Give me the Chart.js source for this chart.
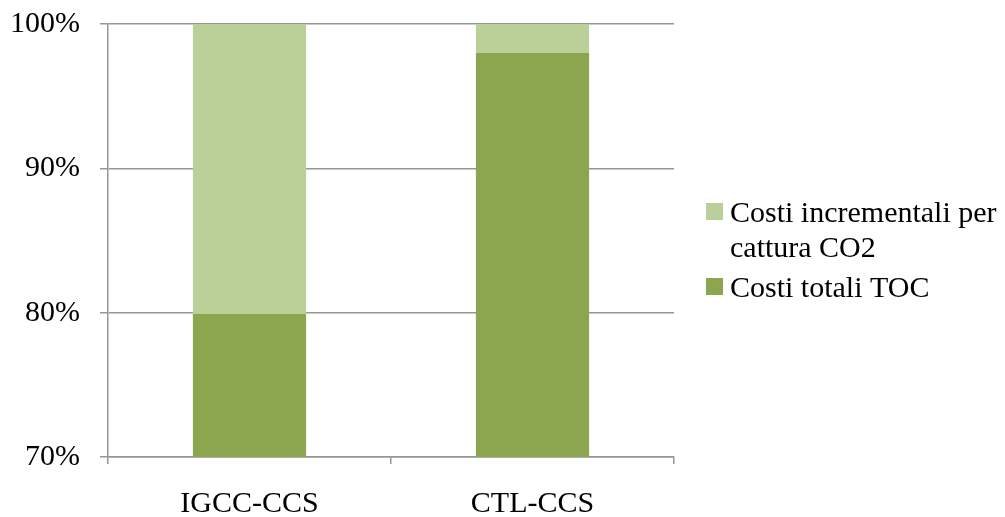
<!DOCTYPE html>
<html>
<head>
<meta charset="utf-8">
<script src="https://cdn.jsdelivr.net/npm/chart.js@4/dist/chart.umd.min.js"></script>
<style>
  html, body { margin: 0; padding: 0; background: #ffffff; }
  #wrap { width: 1005px; height: 517px; position: relative; }
</style>
</head>
<body>
<div id="wrap"><canvas id="c" width="1005" height="517"></canvas></div>
<script>
// Categories and series (percent of total cost)
const categories = ['IGCC-CCS', 'CTL-CCS'];
const costiTotaliTOC = [79.9, 98.0];
const costiIncrementali = [20.1, 2.0];
const seriesNames = ['Costi totali TOC', ['Costi incrementali per', 'cattura CO2']];
const yTicks = [70, 80, 90, 100];

const FONT = '"Liberation Serif", "Times New Roman", serif';
const DARK = '#8BA64F';
const LIGHT = '#BBCF98';
const GRID = '#969696';

// Legend drawn on the right, items listed top-down in reverse stacking order
const sideLegend = {
  id: 'sideLegend',
  afterDraw(chart) {
    const ctx = chart.ctx;
    const ds = chart.data.datasets.slice().reverse();
    const x0 = 706, textX = 730, lineH = 35;
    let baseline = 222;
    ctx.save();
    ctx.font = '30px ' + FONT;
    ctx.textBaseline = 'alphabetic';
    ctx.textAlign = 'left';
    ds.forEach((d) => {
      const lines = Array.isArray(d.label) ? d.label : [d.label];
      ctx.fillStyle = d.backgroundColor;
      ctx.fillRect(x0, baseline - 19, 17, 17);
      ctx.fillStyle = '#000000';
      lines.forEach((t, j) => ctx.fillText(t, textX, baseline + j * lineH));
      baseline += (lines.length - 1) * lineH + 40;
    });
    ctx.restore();
  }
};

new Chart(document.getElementById('c'), {
  type: 'bar',
  data: {
    labels: categories,
    datasets: [
      { label: seriesNames[0], data: costiTotaliTOC, backgroundColor: DARK },
      { label: seriesNames[1], data: costiIncrementali, backgroundColor: LIGHT }
    ]
  },
  options: {
    responsive: false,
    animation: false,
    layout: { padding: { top: 24, right: 331, left: 0, bottom: 0 } },
    datasets: { bar: { barPercentage: 0.4, categoryPercentage: 1.0 } },
    plugins: { legend: { display: false }, tooltip: { enabled: false } },
    scales: {
      x: {
        stacked: true,
        grid: { display: true, drawOnChartArea: false, drawTicks: true, tickLength: 7, color: GRID, lineWidth: 1.5, offset: true },
        border: { display: true, color: GRID, width: 1.5 },
        ticks: { color: '#000000', font: { family: FONT, size: 30 }, padding: 22 },
        afterFit(s) { s.height = 60; s.paddingLeft = 0; s.paddingRight = 0; }
      },
      y: {
        stacked: true,
        min: 70,
        max: 100,
        afterBuildTicks(s) { s.ticks = yTicks.map(v => ({ value: v })); },
        grid: { color: GRID, lineWidth: 1.5, tickLength: 8, drawTicks: true },
        border: { display: true, color: GRID, width: 1.5 },
        ticks: { color: '#000000', font: { family: FONT, size: 30 }, padding: 20, callback: v => v + '%' },
        afterFit(s) { s.width = 108; s.paddingTop = 0; s.paddingBottom = 0; }
      }
    }
  },
  plugins: [sideLegend]
});
</script>
</body>
</html>
